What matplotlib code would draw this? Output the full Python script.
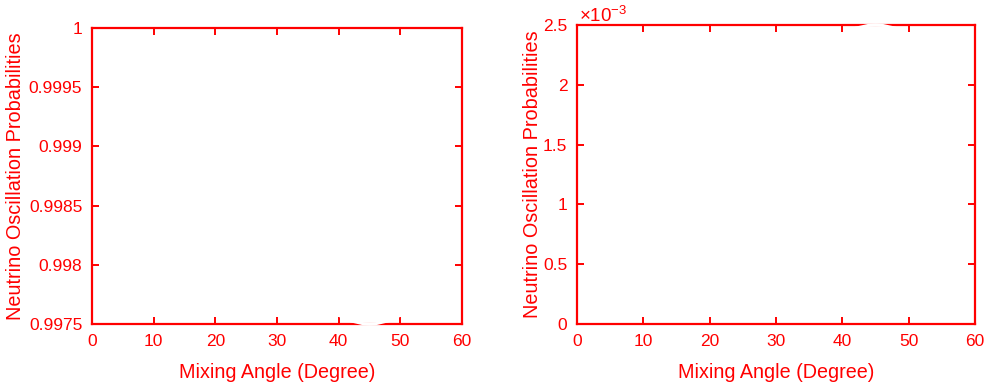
import numpy as np
import matplotlib.pyplot as plt
from matplotlib.transforms import Bbox, TransformedBbox

plt.rcParams['font.family'] = ['Liberation Sans', 'DejaVu Sans']
plt.rcParams['mathtext.fontset'] = 'custom'
plt.rcParams['mathtext.rm'] = 'Liberation Sans'
plt.rcParams['mathtext.default'] = 'regular'

# mixing angle (degree)
angle = [0, 5, 10, 15, 20, 25, 30, 35, 40, 42, 44, 45, 46, 48, 50, 55, 60]
# survival probability
p_surv = [1.0, 0.999925, 0.999708, 0.999375, 0.998967, 0.998533, 0.998125,
          0.997792, 0.997575, 0.997527, 0.997503, 0.9975, 0.997503, 0.997527,
          0.997575, 0.997792, 0.998125]
# appearance probability
p_app = [0.0, 7.5e-5, 2.92e-4, 6.25e-4, 1.033e-3, 1.467e-3, 1.875e-3,
         2.208e-3, 2.425e-3, 2.473e-3, 2.497e-3, 2.5e-3, 2.497e-3, 2.473e-3,
         2.425e-3, 2.208e-3, 1.875e-3]

left_ticks = [0.9975, 0.998, 0.9985, 0.999, 0.9995, 1.0]
right_ticks = [0, 0.5e-3, 1e-3, 1.5e-3, 2e-3, 2.5e-3]
x_ticks = [0, 10, 20, 30, 40, 50, 60]

red = '#ff0000'
fig = plt.figure(figsize=(10, 3.9), dpi=100)
ax1 = fig.add_axes([0.092, 0.169, 0.370, 0.759])
ax2 = fig.add_axes([0.577, 0.169, 0.398, 0.767])


def style(ax, pad):
    for s in ax.spines.values():
        s.set_color(red)
        s.set_linewidth(1.6)
    ax.tick_params(direction='in', length=5, width=1.4, colors=red,
                   labelsize=12.5, top=True, right=True, pad=7)
    ax.set_xlim(0, 60)
    ax.set_xticks(x_ticks)
    ax.set_xlabel('Mixing Angle (Degree)', color=red, fontsize=14.2, labelpad=10)
    ax.set_ylabel('Neutrino Oscillation Probabilities', color=red,
                  fontsize=14.3, labelpad=pad)


style(ax1, 3)
ax1.set_ylim(0.9975, 1.0)
ax1.set_yticks(left_ticks)
ax1.set_yticklabels(['%g' % v for v in left_ticks])
l1, = ax1.plot(angle, p_surv, color='white', lw=2.2, zorder=3)
l1.set_clip_box(TransformedBbox(Bbox([[0.01, -0.03], [0.99, 0.98]]), ax1.transAxes))

style(ax2, 0.5)
ax2.set_ylim(0, 2.5e-3)
ax2.set_yticks(right_ticks)
ax2.set_yticklabels(['%g' % (v * 1e3) for v in right_ticks])
ax2.text(0.005, 1.01, r'$\times10^{-3}$', transform=ax2.transAxes,
         color=red, fontsize=13.5, va='baseline', ha='left')
l2, = ax2.plot(angle, p_app, color='white', lw=2.2, zorder=3)
l2.set_clip_box(TransformedBbox(Bbox([[0.01, 0.02], [0.99, 1.03]]), ax2.transAxes))

fig.savefig('out.png', dpi=100, facecolor='white')
